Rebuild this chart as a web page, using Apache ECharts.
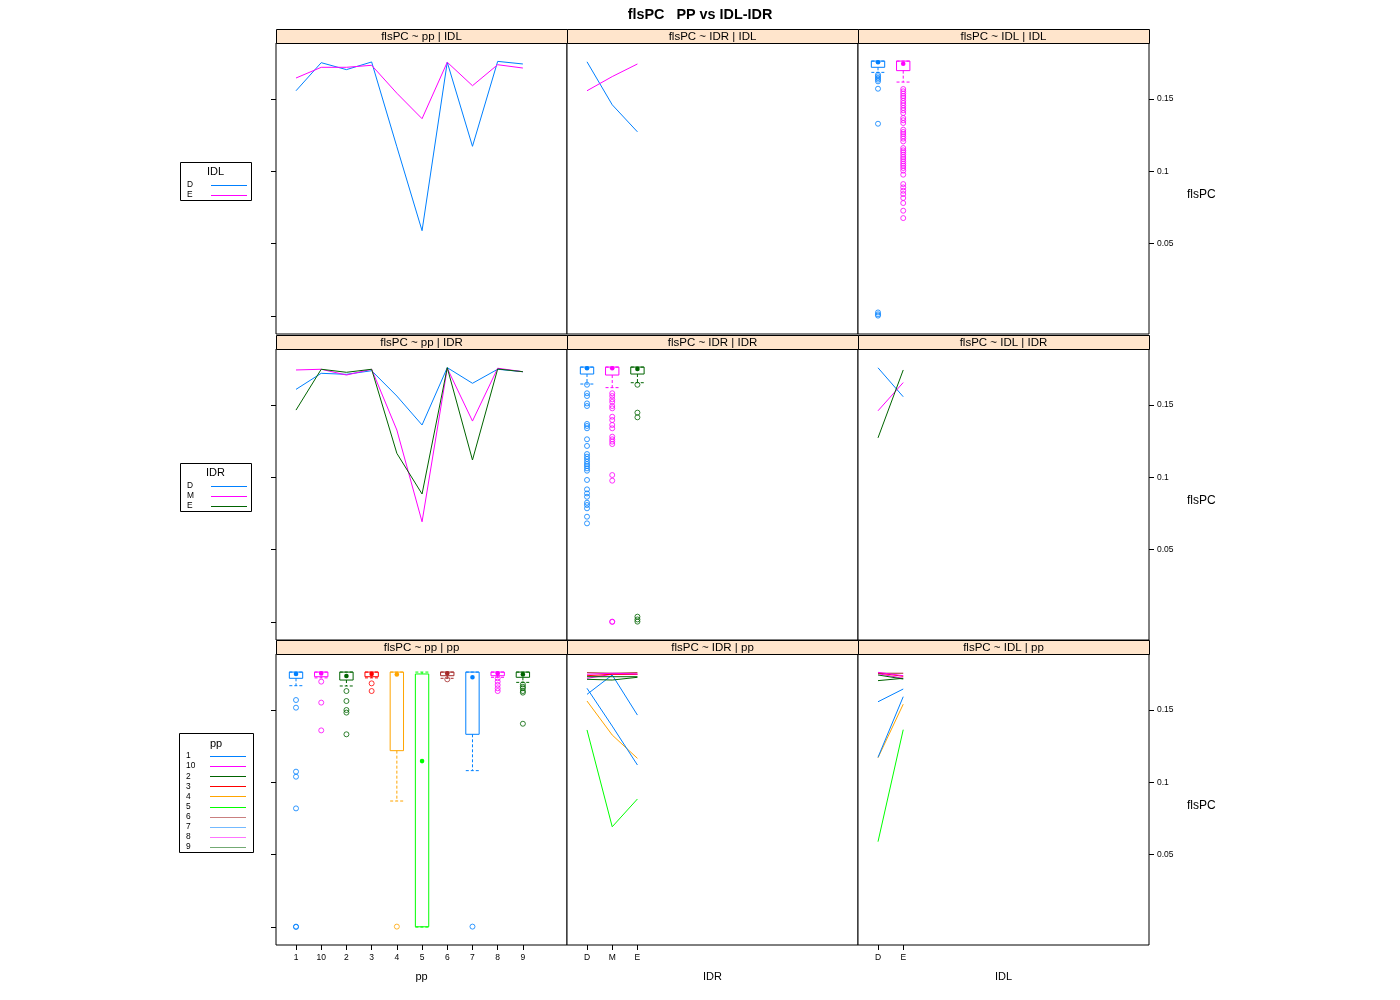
<!DOCTYPE html>
<html><head><meta charset="utf-8">
<script src="https://cdn.jsdelivr.net/npm/echarts@6/dist/echarts.min.js"></script>
<style>html,body{margin:0;padding:0;background:#fff}#c{width:1400px;height:1000px}</style>
</head><body><div id="c"></div><script>
// ---------------- DATA ----------------
const ppCats = ['1','10','2','3','4','5','6','7','8','9'];
const idrCats = ['D','M','E'];
const idlCats = ['D','E'];
const ppColors = ['#0080ff','#ff00ff','#006400','#ff0000','#ffa500','#00ff00','#a52a2a','#0080ff','#ff00ff','#006400'];
const idlColors = ['#0080ff','#ff00ff'];
const idrColors = ['#0080ff','#ff00ff','#006400'];
const yTickValues = [0.05, 0.1, 0.15];
const yTickLabels = ['0.05', '0.1', '0.15'];
const yMinorTicks = [0, 0.05, 0.1, 0.15];

// mean flsPC by pp, one list per IDL level
const meanPP_IDL_D = [0.1557,0.1751,0.1703,0.1756,0.1170,0.0590,0.1754,0.1173,0.1760,0.1742];
const meanPP_IDL_E = [0.1645,0.1719,0.1719,0.1733,0.1540,0.1364,0.1754,0.1592,0.1737,0.1714];
// mean flsPC by pp, one list per IDR level
const meanPP_IDR_D = [0.1608,0.1719,0.1712,0.1737,0.1562,0.1362,0.1758,0.1650,0.1747,0.1730];
const meanPP_IDR_M = [0.1742,0.1747,0.1707,0.1747,0.1327,0.0693,0.1754,0.1389,0.1754,0.1730];
const meanPP_IDR_E = [0.1465,0.1747,0.1726,0.1747,0.1166,0.0885,0.1758,0.1120,0.1749,0.1730];
// mean flsPC by IDR, one list per IDL level
const meanIDR_IDL_D = [0.1757,0.1460,0.1273];
const meanIDR_IDL_E = [0.1557,0.1655,0.1742];

// box stats: [lowWhisker, q1, median, q3, highWhisker]
const boxIDL = [
  [0.1684,0.1719,0.1754,0.1762,0.1762],
  [0.1617,0.1696,0.1744,0.1762,0.1762]
];
const outIDL_D = [0.1668,0.1657,0.1645,0.1634,0.1622,0.1571,0.1329,0.0025,0.0012,0.0003];
const outIDL_E = [0.1569,0.1553,0.1537,0.1521,0.1507,0.1488,0.1472,0.1456,0.1438,0.1422,0.1403,0.1369,0.1353,0.1334,0.1288,0.1272,0.1258,0.1242,0.1226,0.1207,0.1161,0.1145,0.1132,0.1115,0.1099,0.1085,0.1069,0.1053,0.1039,0.1023,0.1005,0.0977,0.0912,0.0889,0.0866,0.0843,0.0816,0.0781,0.0728,0.0677];

const boxIDR = [
  [0.1645,0.1714,0.1754,0.1762,0.1762],
  [0.1620,0.1707,0.1754,0.1762,0.1762],
  [0.1654,0.1714,0.1749,0.1762,0.1762]
];
const outIDR_D = [0.1640,0.1581,0.1562,0.1511,0.1493,0.1369,0.1355,0.1339,0.1263,0.1217,0.1161,0.1143,0.1127,0.1108,0.1092,0.1078,0.1062,0.1046,0.0982,0.0917,0.0889,0.0866,0.0825,0.0809,0.0786,0.0728,0.0682];
const outIDR_M = [0.1581,0.1562,0.1539,0.1521,0.1493,0.1477,0.1419,0.1396,0.1362,0.1339,0.1281,0.1263,0.1247,0.1230,0.1016,0.0977,0.0003,0.0001];
const outIDR_E = [0.1640,0.1447,0.1415,0.0037,0.0018,0.0003];

const boxPP = [
  [0.1668,0.1719,0.1749,0.1762,0.1762],
  [0.1722,0.1730,0.1753,0.1762,0.1762],
  [0.1666,0.1707,0.1735,0.1762,0.1762],
  [0.1722,0.1730,0.1749,0.1762,0.1762],
  [0.0871,0.1219,0.1746,0.1762,0.1762],
  [0.0000,0.0002,0.1147,0.1749,0.1762],
  [0.1719,0.1737,0.1753,0.1762,0.1762],
  [0.1081,0.1332,0.1726,0.1762,0.1762],
  [0.1726,0.1737,0.1753,0.1762,0.1762],
  [0.1691,0.1726,0.1746,0.1762,0.1762]
];
const outPP1 = [0.1569,0.1516,0.1074,0.1039,0.0820,0.0003,0.0001];
const outPP10 = [0.1696,0.1551,0.1359];
const outPP2 = [0.1631,0.1562,0.1500,0.1482,0.1332];
const outPP3 = [0.1684,0.1631];
const outPP4 = [0.0003];
const outPP5 = [];
const outPP6 = [0.1712];
const outPP7 = [0.0003];
const outPP8 = [0.1719,0.1696,0.1673,0.1650,0.1631];
const outPP9 = [0.1677,0.1661,0.1650,0.1631,0.1620,0.1405];

// ---------------- LAYOUT ----------------
const FONT = "'Liberation Sans', Arial, Helvetica, sans-serif";
const colL = [276, 567, 858], rowT = [43, 349, 654], PW = 291, PH = 291;
const stripH = 14;
const YMIN = -0.0124, YMAX = 0.1887, XMIN = 0.206, XMAX = 11.75;
const xCats = [ppCats, idrCats, idlCats];
const xNames = ['pp', 'IDR', 'IDL'];
const condNames = ['IDL', 'IDR', 'pp'];

const grids = [], xAxes = [], yAxes = [], series = [], graphics = [];
for (let r = 0; r < 3; r++) {
  for (let c = 0; c < 3; c++) {
    const g = r * 3 + c;
    grids.push({left: colL[c], top: rowT[r], width: PW, height: PH, show: true,
      borderColor: '#000', borderWidth: 1, backgroundColor: '#fff', containLabel: false});
    const cats = xCats[c];
    const bottom = r === 2;
    xAxes.push({gridIndex: g, type: 'value', min: XMIN, max: XMAX, position: 'bottom',
      axisLine: {show: false, onZero: false}, splitLine: {show: false},
      axisTick: {show: bottom, customValues: cats.map((_, i) => i + 1), length: 5, lineStyle: {color: '#000'}},
      axisLabel: {show: bottom, customValues: cats.map((_, i) => i + 1), margin: 8,
        formatter: v => cats[Math.round(v) - 1], fontSize: 8.5, color: '#000', fontFamily: FONT},
      name: bottom ? xNames[c] : '', nameLocation: 'middle', nameGap: 26,
      nameTextStyle: {fontSize: 11, color: '#000', fontFamily: FONT}
    });
    yAxes.push({gridIndex: g, type: 'value', min: YMIN, max: YMAX, position: 'left',
      axisLine: {show: false, onZero: false}, splitLine: {show: false},
      axisTick: {show: c === 0, customValues: yMinorTicks, length: 5, lineStyle: {color: '#000'}},
      axisLabel: {show: false}
    });
    // strip
    graphics.push({type: 'rect', shape: {x: colL[c] + 0.5, y: rowT[r] - stripH + 0.5, width: PW, height: stripH},
      style: {fill: '#ffe5cc', stroke: '#000', lineWidth: 1}, z: 10});
    graphics.push({type: 'text', x: colL[c] + PW / 2, y: rowT[r] - stripH / 2 + 0.5,
      style: {text: 'flsPC ~ ' + xNames[c] + ' | ' + condNames[r], fontSize: 11.5, fontFamily: FONT,
        fill: '#000', align: 'center', verticalAlign: 'middle'}, z: 11});
  }
}
// right axes with labels for column 3
for (let r = 0; r < 3; r++) {
  yAxes.push({gridIndex: r * 3 + 2, type: 'value', min: YMIN, max: YMAX, position: 'right',
    axisLine: {show: false, onZero: false}, splitLine: {show: false},
    axisTick: {show: true, customValues: yTickValues, length: 5, lineStyle: {color: '#000'}},
    axisLabel: {show: true, customValues: yTickValues, margin: 8, fontSize: 8.5, color: '#000', fontFamily: FONT,
      formatter: v => yTickLabels[yTickValues.findIndex(t => Math.abs(t - v) < 1e-9)]},
    name: 'flsPC', nameLocation: 'middle', nameRotate: 0, nameGap: 38,
    nameTextStyle: {fontSize: 12, color: '#000', fontFamily: FONT, verticalAlign: 'top'}
  });
}

function lineSeries(g, name, vals, color, opacity) {
  series.push({type: 'line', name, xAxisIndex: g, yAxisIndex: g, symbol: 'none', silent: true,
    data: vals.map((v, i) => [i + 1, v]),
    lineStyle: {color, width: 1, opacity: opacity == null ? 1 : opacity}, animation: false});
}
function boxSeries(g, stats, colors) {
  series.push({type: 'custom', xAxisIndex: g, yAxisIndex: g, silent: true, animation: false,
    data: stats.map((s, i) => [i + 1].concat(s)),
    renderItem: function (params, api) {
      const x = api.value(0);
      const lo = api.coord([x, api.value(1)]);
      const q1 = api.coord([x, api.value(2)]);
      const md = api.coord([x, api.value(3)]);
      const q3 = api.coord([x, api.value(4)]);
      const hi = api.coord([x, api.value(5)]);
      const w = api.size([0.53, 0])[0];
      const half = w / 2, cx = lo[0];
      const col = colors[params.dataIndex];
      const dash = {stroke: col, lineWidth: 1, lineDash: [3, 2], fill: null};
      return {type: 'group', children: [
        {type: 'line', shape: {x1: cx, y1: q1[1], x2: cx, y2: lo[1]}, style: dash},
        {type: 'line', shape: {x1: cx - half, y1: lo[1], x2: cx + half, y2: lo[1]}, style: dash},
        {type: 'line', shape: {x1: cx, y1: q3[1], x2: cx, y2: hi[1]}, style: dash},
        {type: 'line', shape: {x1: cx - half, y1: hi[1], x2: cx + half, y2: hi[1]}, style: dash},
        {type: 'rect', shape: {x: cx - half, y: q3[1], width: w, height: q1[1] - q3[1]}, style: {stroke: col, fill: null, lineWidth: 1}},
        {type: 'circle', shape: {cx: cx, cy: md[1], r: 2.3}, style: {fill: col}}
      ]};
    }});
}
function outSeries(g, xi, vals, color) {
  series.push({type: 'scatter', xAxisIndex: g, yAxisIndex: g, silent: true, animation: false,
    symbol: 'circle', symbolSize: 5,
    data: vals.map(v => [xi, v]),
    itemStyle: {color: 'rgba(0,0,0,0)', borderColor: color, borderWidth: 1}});
}

// Row 1: groups = IDL
lineSeries(0, 'D', meanPP_IDL_D, idlColors[0]);
lineSeries(0, 'E', meanPP_IDL_E, idlColors[1]);
lineSeries(1, 'D', meanIDR_IDL_D, idlColors[0]);
lineSeries(1, 'E', meanIDR_IDL_E, idlColors[1]);
boxSeries(2, boxIDL, idlColors);
outSeries(2, 1, outIDL_D, idlColors[0]);
outSeries(2, 2, outIDL_E, idlColors[1]);
// Row 2: groups = IDR
lineSeries(3, 'D', meanPP_IDR_D, idrColors[0]);
lineSeries(3, 'M', meanPP_IDR_M, idrColors[1]);
lineSeries(3, 'E', meanPP_IDR_E, idrColors[2]);
boxSeries(4, boxIDR, idrColors);
outSeries(4, 1, outIDR_D, idrColors[0]);
outSeries(4, 2, outIDR_M, idrColors[1]);
outSeries(4, 3, outIDR_E, idrColors[2]);
lineSeries(5, 'D', [meanIDR_IDL_D[0], meanIDR_IDL_E[0]], idrColors[0]);
lineSeries(5, 'M', [meanIDR_IDL_D[1], meanIDR_IDL_E[1]], idrColors[1]);
lineSeries(5, 'E', [meanIDR_IDL_D[2], meanIDR_IDL_E[2]], idrColors[2]);
// Row 3: groups = pp
boxSeries(6, boxPP, ppColors);
[outPP1, outPP10, outPP2, outPP3, outPP4, outPP5, outPP6, outPP7, outPP8, outPP9]
  .forEach((o, i) => outSeries(6, i + 1, o, ppColors[i]));
ppCats.forEach((p, i) => {
  lineSeries(7, p, [meanPP_IDR_D[i], meanPP_IDR_M[i], meanPP_IDR_E[i]], ppColors[i]);
  lineSeries(8, p, [meanPP_IDL_D[i], meanPP_IDL_E[i]], ppColors[i]);
});

// ---------------- KEYS (legends) ----------------
function key(x, y, w, h, title, titleY, names, colors, itemY0, step, opac) {
  graphics.push({type: 'rect', shape: {x: x + 0.5, y: y + 0.5, width: w, height: h},
    style: {fill: '#fff', stroke: '#000', lineWidth: 1}});
  graphics.push({type: 'text', x: x + w / 2, y: titleY, style: {text: title, fontSize: 11, fontFamily: FONT,
    fill: '#000', align: 'center', verticalAlign: 'middle'}});
  names.forEach((n, i) => {
    const yy = itemY0 + i * step;
    graphics.push({type: 'text', x: x + 7, y: yy, style: {text: n, fontSize: 8.4, fontFamily: FONT,
      fill: '#000', align: 'left', verticalAlign: 'middle'}});
    graphics.push({type: 'rect', shape: {x: x + 31, y: Math.round(yy), width: 36, height: 1},
      style: {fill: colors[i], opacity: opac ? opac[i] : 1}, z: 5});
  });
}
key(180, 162, 71, 38, 'IDL', 172, idlCats, idlColors, 185, 10);
key(180, 463, 71, 48, 'IDR', 473, idrCats, idrColors, 486, 10);
key(179, 733, 74, 119, 'pp', 744, ppCats, ppColors, 756, 10.1, [1,1,1,1,1,1,0.6,0.55,0.55,0.55]);

const chart = echarts.init(document.getElementById('c'), null, {renderer: 'canvas', width: 1400, height: 1000});
chart.setOption({
  animation: false,
  backgroundColor: '#fff',
  title: {text: 'flsPC   PP vs IDL-IDR', left: 'center', top: 3,
    textStyle: {fontSize: 14.4, fontWeight: 'bold', color: '#000', fontFamily: FONT}},
  grid: grids, xAxis: xAxes, yAxis: yAxes, series: series, graphic: graphics
});
</script></body></html>
